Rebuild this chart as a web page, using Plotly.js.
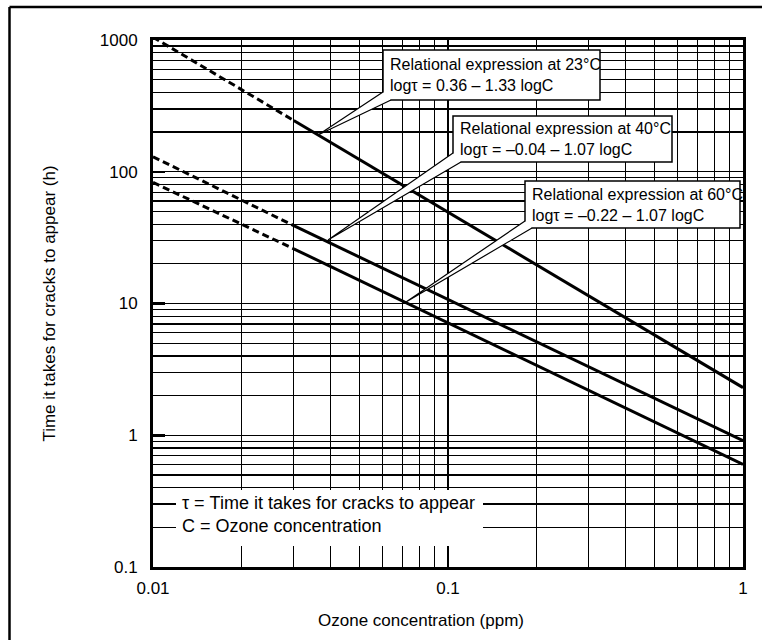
<!DOCTYPE html>
<html>
<head>
<meta charset="utf-8">
<script src="https://cdn.plot.ly/plotly-3.0.1.min.js"></script>
<style>
html,body{margin:0;padding:0;background:#fff;}
#chart{width:762px;height:640px;}
</style>
</head>
<body>
<div id="chart"></div>
<script>
// ---------- data ----------
const concentration = [0.01, 0.03, 1];          // ppm
const tau23 = [1050, 245, 2.3];                 // h, 23°C
const tau40 = [130, 39, 0.91];                  // h, 40°C
const tau60 = [83, 26, 0.6];                    // h, 60°C
const seriesNames = ['23°C', '40°C', '60°C'];
const xTickVals = [0.01, 0.1, 1];
const xTickText = ['0.01', '0.1', '1'];
const yTickVals = [0.1, 1, 10, 100, 1000];
const yTickText = ['0.1', '1', '10', '100', '1000'];
const calloutTexts = [
  'Relational expression at 23°C<br>logτ = 0.36 – 1.33 logC',
  'Relational expression at 40°C<br>logτ = –0.04 – 1.07 logC',
  'Relational expression at 60°C<br>logτ = –0.22 – 1.07 logC'
];
const noteLines = ['τ = Time it takes for cracks to appear', 'C = Ozone concentration'];
const xTitle = 'Ozone concentration (ppm)';
const yTitle = 'Time it takes for cracks to appear (h)';

// ---------- traces ----------
const FONT = 'Liberation Sans, Arial, Helvetica, sans-serif';
const allTau = [tau23, tau40, tau60];
const traces = [];
allTau.forEach((tau, i) => {
  traces.push({
    x: concentration.slice(0, 2), y: tau.slice(0, 2),
    type: 'scatter', mode: 'lines', name: seriesNames[i] + ' (extrapolated)',
    line: {color: '#000', width: 3, dash: '7px,4px'}, hoverinfo: 'skip', showlegend: false
  });
  traces.push({
    x: concentration.slice(1), y: tau.slice(1),
    type: 'scatter', mode: 'lines', name: seriesNames[i],
    line: {color: '#000', width: 3}, showlegend: false
  });
});

// ---------- layout geometry (pixels -> paper) ----------
const box = {l: 153, r: 743, t: 40, b: 567};
const W = box.r - box.l, H = box.b - box.t;
const fx = px => (px - box.l) / W;
const fy = py => (box.b - py) / H;

const callouts = [
  {rect: [383, 50, 600, 100], tip: [318, 135], b1: [383, 92], b2: [391, 100]},
  {rect: [453, 116, 672, 162], tip: [328, 240], b1: [453, 153], b2: [461, 162]},
  {rect: [525, 181, 740, 228], tip: [406, 302], b1: [525, 221], b2: [532, 228]}
];

const shapes = [];
const annotations = [];

// outer frame (top and left edges visible)
shapes.push({type: 'line', xref: 'paper', yref: 'paper', x0: fx(9.5), x1: fx(780), y0: fy(7), y1: fy(7),
  line: {color: '#000', width: 2.5}, layer: 'above'});
shapes.push({type: 'line', xref: 'paper', yref: 'paper', x0: fx(9.5), x1: fx(9.5), y0: fy(7), y1: fy(660),
  line: {color: '#000', width: 2.5}, layer: 'above'});

callouts.forEach((c, i) => {
  const [l, t, r, b] = c.rect;
  shapes.push({type: 'rect', xref: 'paper', yref: 'paper', x0: fx(l), x1: fx(r), y0: fy(b), y1: fy(t),
    fillcolor: '#fff', line: {color: '#000', width: 1.5}, layer: 'above'});
  const p = (pt) => fx(pt[0]) + ',' + fy(pt[1]);
  shapes.push({type: 'path', xref: 'paper', yref: 'paper',
    path: 'M' + p(c.b1) + ' L' + p(c.tip) + ' L' + p(c.b2),
    fillcolor: '#fff', line: {color: '#000', width: 1.2}, layer: 'above'});
  annotations.push({xref: 'paper', yref: 'paper', x: fx(l + 5), y: fy((t + b) / 2),
    xanchor: 'left', yanchor: 'middle', align: 'left', showarrow: false,
    text: calloutTexts[i], font: {family: FONT, size: 16, color: '#000'}});
});

// note box
shapes.push({type: 'rect', xref: 'paper', yref: 'paper', x0: fx(176), x1: fx(483), y0: fy(546), y1: fy(490),
  fillcolor: '#fff', line: {width: 0}, layer: 'above'});
annotations.push({xref: 'paper', yref: 'paper', x: fx(180), y: fy(514.5),
  xanchor: 'left', yanchor: 'middle', align: 'left', showarrow: false,
  text: noteLines.join('<br>'), font: {family: FONT, size: 18, color: '#000'}});

// x-axis title (centred left of the plot centre, as in the reference)
annotations.push({xref: 'paper', yref: 'paper', x: fx(421), y: fy(620),
  xanchor: 'center', yanchor: 'middle', showarrow: false,
  text: xTitle, font: {family: FONT, size: 17, color: '#000'}});

const axisCommon = {
  type: 'log', tickmode: 'array',
  showline: true, mirror: true, linecolor: '#000', linewidth: 3,
  showgrid: true, gridcolor: '#000', gridwidth: 1.3,
  ticks: 'inside', ticklen: 12, tickwidth: 2.5, tickcolor: '#000',
  zeroline: false, fixedrange: true,
  tickfont: {family: FONT, size: 17, color: '#000'},
  minor: {tickmode: 'linear', dtick: 'D1', showgrid: true, gridcolor: '#000', gridwidth: 1.3, ticks: ''}
};

const layout = {
  width: 762, height: 640,
  margin: {l: box.l, r: 762 - box.r, t: box.t, b: 640 - box.b, pad: 0},
  paper_bgcolor: '#fff', plot_bgcolor: '#fff',
  showlegend: false,
  font: {family: FONT, color: '#000'},
  xaxis: Object.assign({}, axisCommon, {
    range: [-2, 0], tickvals: xTickVals, ticktext: xTickText, ticklabelstandoff: 4
  }),
  yaxis: Object.assign({}, axisCommon, {
    range: [-1, 3], tickvals: yTickVals, ticktext: yTickText, ticklabelstandoff: 9,
    title: {text: yTitle, font: {family: FONT, size: 17, color: '#000'}, standoff: 40}
  }),
  shapes: shapes,
  annotations: annotations
};

Plotly.newPlot('chart', traces, layout, {displayModeBar: false, staticPlot: true});
</script>
</body>
</html>
